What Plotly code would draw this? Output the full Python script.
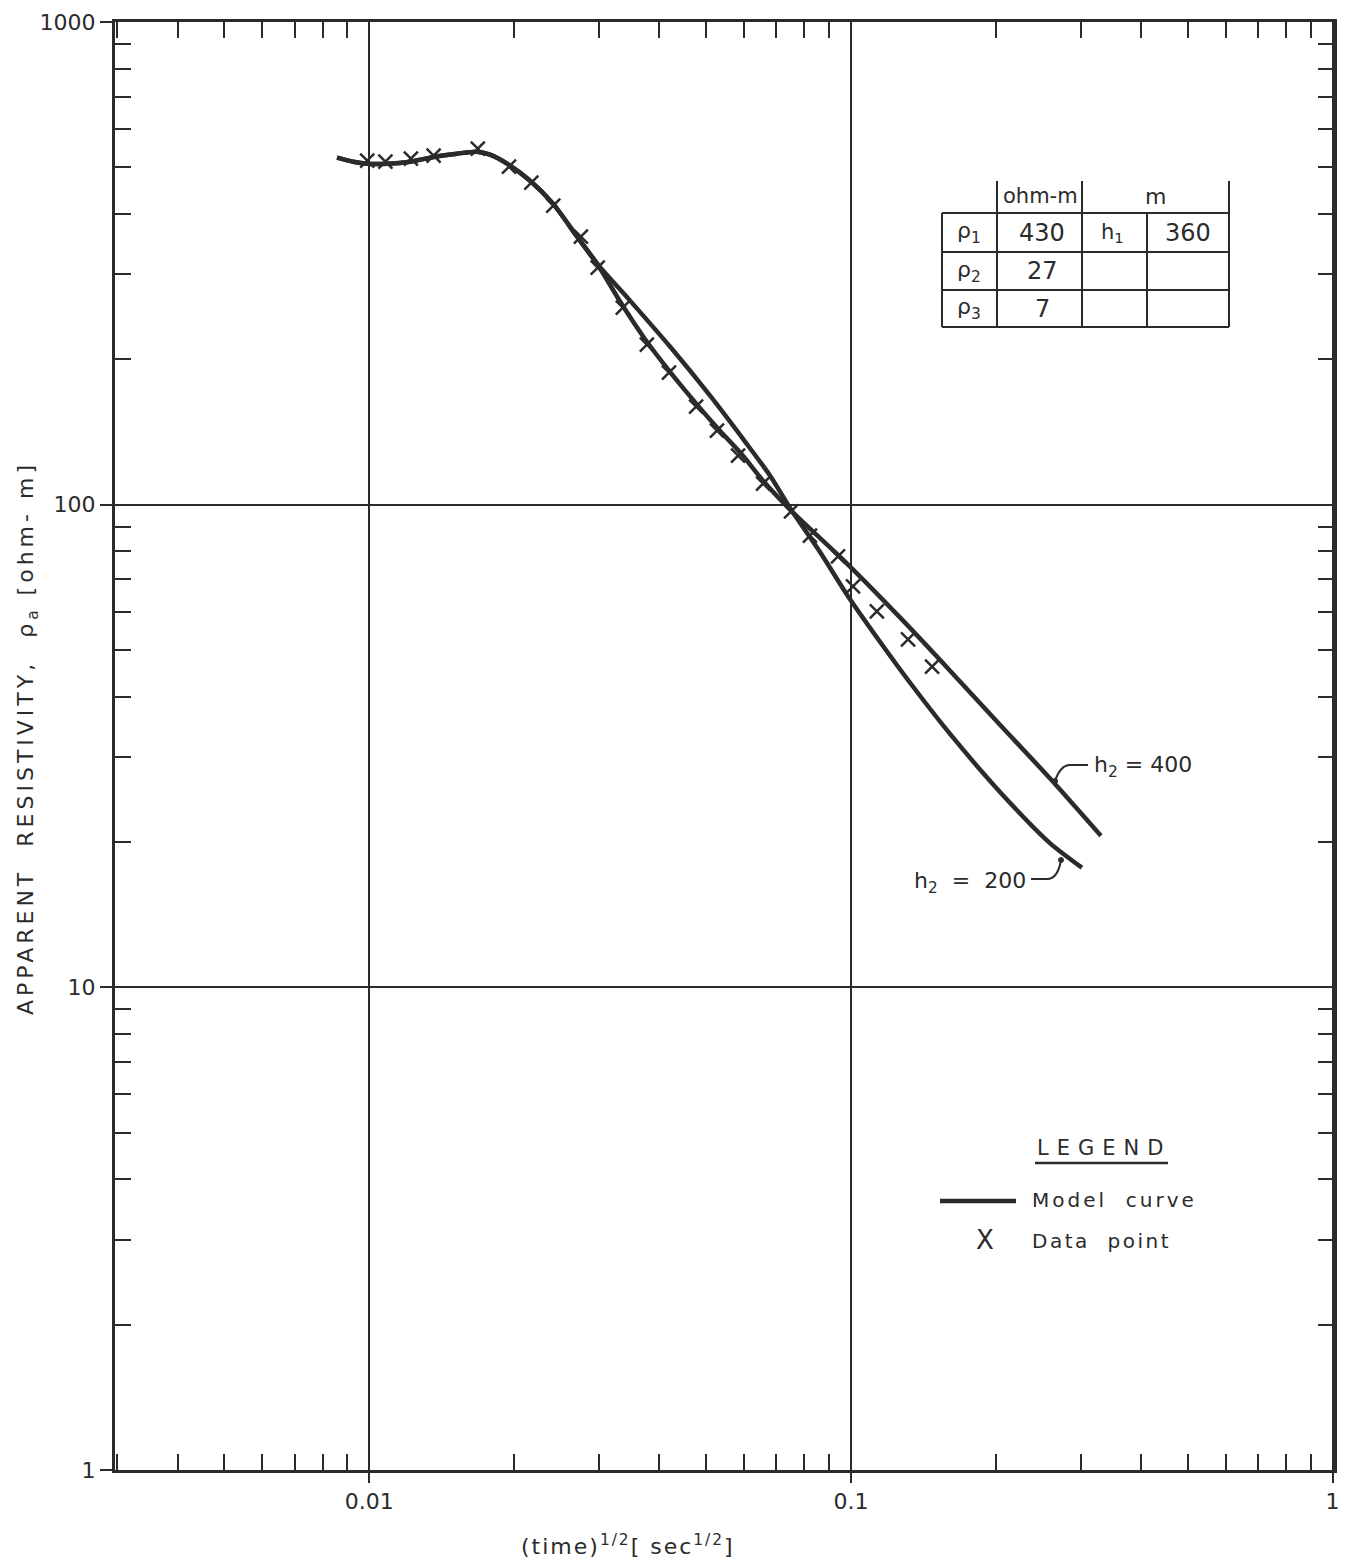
import plotly.graph_objects as go

# ---------------- data ----------------
# shared early part of both model curves
common_t = [0.00857, 0.00926, 0.00990, 0.01089, 0.01216, 0.01370, 0.01522, 0.01674,
            0.01781, 0.01932, 0.02157, 0.02407, 0.02700, 0.02971]
common_rho = [523.5, 513.6, 508.7, 508.7, 513.6, 526.0, 533.6, 538.7,
              531.1, 508.7, 469.1, 420.4, 359.2, 315.8]

# model curve h2 = 400
h400_t = [0.03329, 0.03738, 0.04183, 0.04758, 0.05286, 0.05915, 0.06619, 0.07509,
          0.09813, 0.1264, 0.1606, 0.2039, 0.2589, 0.3304]
h400_rho = [262.0, 220.2, 190.0, 162.5, 144.0, 127.6, 111.1, 97.2,
            75.5, 58.4, 45.3, 35.0, 27.1, 20.6]

# model curve h2 = 200
h200_t = [0.03478, 0.04210, 0.05099, 0.06028, 0.06790, 0.07509,
          0.08633, 0.09813, 0.1146, 0.1345, 0.1606, 0.2039, 0.2589, 0.3017]
h200_rho = [264.7, 212.6, 168.2, 135.1, 114.9, 97.7,
            79.7, 65.1, 52.2, 42.0, 33.5, 25.4, 19.9, 17.7]

# measured data points
data_t = [0.0099, 0.0108, 0.0122, 0.0136, 0.0168, 0.0195, 0.0217, 0.0241, 0.0275, 0.0298,
          0.0336, 0.0377, 0.0419, 0.0477, 0.0527, 0.0583, 0.0657, 0.0751, 0.0822, 0.0940,
          0.1010, 0.1132, 0.1314, 0.1474]
data_rho = [516.1, 513.6, 521.0, 528.5, 546.4, 501.5, 464.6, 416.4, 359.2, 309.8,
            256.0, 214.6, 187.8, 159.7, 142.4, 126.4, 110.6, 96.8, 86.3, 78.1,
            67.7, 60.1, 52.6, 46.2]

x_tickvals = [0.01, 0.1, 1]
x_ticktext = ["0.01", "0.1", "1"]
y_tickvals = [1, 10, 100, 1000]
y_ticktext = ["1", "10", "100", "1000"]

table_header = ["ohm-m", "m"]
table_rho_labels = ["ρ<sub>1</sub>", "ρ<sub>2</sub>", "ρ<sub>3</sub>"]
table_rho_values = ["430", "27", "7"]
table_h_labels = ["h<sub>1</sub>"]
table_h_values = ["360"]

# ---------------- layout helpers ----------------
W, H = 1349, 1567
L, R, T, B = 115, 1334, 22, 1470
INK = "#2b2b2b"
FONT = "DejaVu Sans"
XRANGE = [-2.528, 0.003]
YRANGE = [0, 3]


def px(x):
    return (x - L) / (R - L)


def py(y):
    return (B - y) / (B - T)


def spaced(s, sp):
    return f'<span style="letter-spacing:{sp}px">{s}</span>'


fig = go.Figure()

fig.add_trace(go.Scatter(x=common_t + h400_t, y=common_rho + h400_rho, mode="lines",
                         line=dict(color=INK, width=4.5, shape="spline", smoothing=0.7),
                         showlegend=False, hoverinfo="skip"))
fig.add_trace(go.Scatter(x=common_t + h200_t, y=common_rho + h200_rho, mode="lines",
                         line=dict(color=INK, width=4.5, shape="spline", smoothing=0.7),
                         showlegend=False, hoverinfo="skip"))
fig.add_trace(go.Scatter(x=data_t, y=data_rho, mode="markers",
                         marker=dict(symbol="x-thin", size=14, line=dict(color=INK, width=2.5)),
                         showlegend=False))
# invisible copy on the mirror axes so that the top/right minor ticks get drawn
fig.add_trace(go.Scatter(x=data_t, y=data_rho, mode="markers", xaxis="x2", yaxis="y2",
                         marker=dict(opacity=0), showlegend=False, hoverinfo="skip"))

minor_x = [m * 10 ** e for e in (-3, -2, -1) for m in range(2, 10)]
minor_y = [m * 10 ** e for e in (0, 1, 2) for m in range(2, 10)]

common_axis = dict(type="log", ticks="outside", tickwidth=2, tickcolor=INK,
                   showline=True, linewidth=3, linecolor=INK, mirror=True,
                   showgrid=True, gridcolor=INK, gridwidth=1.5, zeroline=False,
                   automargin=False,
                   tickfont=dict(family=FONT, size=22, color=INK))

fig.update_layout(
    xaxis=dict(range=XRANGE, tickvals=x_tickvals, ticktext=x_ticktext, ticklen=10,
               minor=dict(tickvals=minor_x, ticks="inside", ticklen=16, tickwidth=2,
                          tickcolor=INK, showgrid=False), **common_axis),
    yaxis=dict(range=YRANGE, tickvals=y_tickvals, ticktext=y_ticktext, ticklen=12,
               minor=dict(tickvals=minor_y, ticks="inside", ticklen=16, tickwidth=2,
                          tickcolor=INK, showgrid=False), **common_axis),
    xaxis2=dict(type="log", range=XRANGE, overlaying="x", side="top", anchor="y",
                tickvals=x_tickvals, ticks="", showticklabels=False, showgrid=False,
                showline=False, zeroline=False, automargin=False,
                minor=dict(tickvals=minor_x, ticks="inside", ticklen=16, tickwidth=2,
                           tickcolor=INK, showgrid=False)),
    yaxis2=dict(type="log", range=YRANGE, overlaying="y", side="right", anchor="x",
                tickvals=y_tickvals, ticks="", showticklabels=False, showgrid=False,
                showline=False, zeroline=False, automargin=False,
                minor=dict(tickvals=minor_y, ticks="inside", ticklen=16, tickwidth=2,
                           tickcolor=INK, showgrid=False)),
)

shapes = []
ann = []


def line(x0, y0, x1, y1, w=2):
    shapes.append(dict(type="line", xref="paper", yref="paper", x0=px(x0), y0=py(y0),
                       x1=px(x1), y1=py(y1), line=dict(color=INK, width=w)))


def text(x, y, s, size=20, xanchor="center", angle=0):
    ann.append(dict(xref="paper", yref="paper", x=px(x), y=py(y), text=s, showarrow=False,
                    xanchor=xanchor, yanchor="middle", textangle=angle,
                    font=dict(family=FONT, size=size, color=INK)))


# axis titles
text(27, 738, spaced("APPARENT  RESISTIVITY,  ρ<sub>a</sub> [ohm- m]", 4), size=22, angle=-90)
text(628, 1545, spaced("(time)<sup>1/2</sup>[ sec<sup>1/2</sup>]", 2), size=22)

# parameter table
cols = [942, 997, 1082, 1147, 1229]
rows = [213, 252, 290, 327]
for yy in rows:
    line(cols[0], yy, cols[-1], yy)
for xx in cols:
    line(xx, rows[0], xx, rows[-1])
for xx in (997, 1082, 1229):
    line(xx, 181, xx, rows[0])
text(1040, 196, table_header[0], size=21)
text(1155, 196, table_header[1], size=22)
for i, (lab, val) in enumerate(zip(table_rho_labels, table_rho_values)):
    yc = (rows[i] + rows[i + 1]) / 2
    text(969, yc, lab, size=22)
    text(1042, yc, val, size=24)
text(1112, (rows[0] + rows[1]) / 2, table_h_labels[0], size=21)
text(1188, (rows[0] + rows[1]) / 2, table_h_values[0], size=24)

# curve labels with leaders
text(1092, 766, "h<sub>2</sub> = 400", size=22, xanchor="left")
shapes.append(dict(type="path", xref="paper", yref="paper",
                   path=f"M {px(1088)},{py(765)} L {px(1069)},{py(765)} Q {px(1060)},{py(766)} {px(1055)},{py(781)}",
                   line=dict(color=INK, width=2)))
text(1028, 882, "h<sub>2</sub>  =  200", size=22, xanchor="right")
shapes.append(dict(type="path", xref="paper", yref="paper",
                   path=f"M {px(1031)},{py(879)} L {px(1048)},{py(879)} Q {px(1058)},{py(878)} {px(1061)},{py(860)}",
                   line=dict(color=INK, width=2)))
for (cx, cy) in ((1055, 781), (1061, 860)):
    shapes.append(dict(type="circle", xref="paper", yref="paper",
                       x0=px(cx - 2.5), x1=px(cx + 2.5), y0=py(cy - 2.5), y1=py(cy + 2.5),
                       fillcolor=INK, line=dict(color=INK, width=1)))

# hand-drawn legend
text(1035, 1148, spaced("LEGEND", 8), size=21, xanchor="left")
line(1035, 1163, 1168, 1163, w=2.5)
line(940, 1201, 1016, 1201, w=4.5)
text(1030, 1200, spaced("Model  curve", 3), size=20, xanchor="left")
text(985, 1240, "X", size=26)
text(1030, 1241, spaced("Data  point", 2.5), size=20, xanchor="left")

fig.update_layout(width=W, height=H, margin=dict(l=L, r=W - R, t=T, b=H - B, autoexpand=False),
                  paper_bgcolor="white", plot_bgcolor="white",
                  shapes=shapes, annotations=ann, showlegend=False)

fig.write_html("out.html")
